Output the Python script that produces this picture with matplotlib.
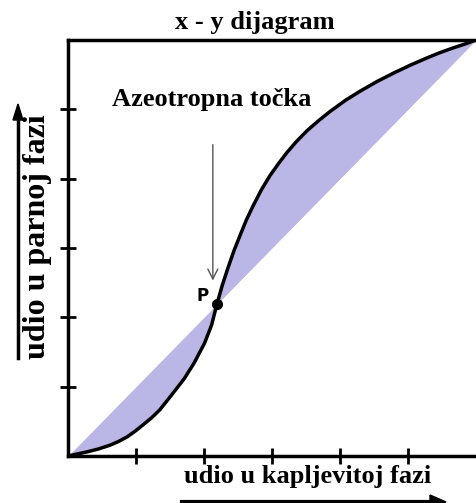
import matplotlib.pyplot as plt

plt.rcParams["font.family"] = ["Liberation Serif", "DejaVu Serif"]

# x-y ravnoteža (očitano sa slike)
x_kap = [0.0, 0.047, 0.075, 0.103, 0.124, 0.145, 0.165, 0.184, 0.205, 0.225, 0.255,
         0.285, 0.31, 0.335, 0.352, 0.365, 0.378, 0.392, 0.407, 0.422, 0.437, 0.453,
         0.474, 0.495, 0.516, 0.537, 0.56, 0.586, 0.614, 0.642, 0.68, 0.716, 0.757,
         0.797, 0.84, 0.88, 0.91, 0.944, 0.975, 1.0]
y_par = [0.0, 0.010, 0.017, 0.026, 0.035, 0.046, 0.06, 0.075, 0.092, 0.111, 0.148,
         0.186, 0.225, 0.272, 0.315, 0.365, 0.41, 0.452, 0.494, 0.531, 0.567, 0.600,
         0.640, 0.674, 0.703, 0.730, 0.756, 0.782, 0.806, 0.828, 0.855, 0.877, 0.900,
         0.920, 0.940, 0.957, 0.969, 0.981, 0.991, 1.0]
azeotrop = (0.365, 0.365)
ticks = [1/6, 2/6, 3/6, 4/6, 5/6]

fig = plt.figure(figsize=(4.77, 5.03), dpi=100)
ax = fig.add_axes([68/477, 47/503, 408/477, 416/503])

ax.fill_between(x_kap, x_kap, y_par, color="#bab6e6", linewidth=0)
ax.plot(x_kap, y_par, color="black", linewidth=2.5, solid_joinstyle="round",
        solid_capstyle="round")
ax.plot(*azeotrop, "o", color="black", markersize=7)

ax.set_xlim(0, 1)
ax.set_ylim(0, 1)
ax.set_xticks(ticks)
ax.set_yticks(ticks)
ax.set_xticklabels([])
ax.set_yticklabels([])
ax.tick_params(direction="inout", length=12, width=2, color="black")
ax.spines["right"].set_visible(False)
for s in ["left", "bottom", "top"]:
    ax.spines[s].set_linewidth(2.5)

fig.text(255/477, 1 - 22/503, "x - y dijagram", fontsize=19, fontweight="bold",
         ha="center", va="center")

ax.text(0.108, 0.856, "Azeotropna točka", fontsize=19, fontweight="bold",
        transform=ax.transAxes, va="center")
ax.annotate("", xy=(0.355, 0.415), xytext=(0.355, 0.755),
            arrowprops=dict(arrowstyle="->", color="#555555", lw=1, mutation_scale=18))
ax.text(0.33, 0.385, "P", fontsize=12, fontweight="bold", family="DejaVu Sans",
        ha="center", va="center")

fig.text(38/477, 1 - 237/503, "udio u parnoj fazi", rotation=90, fontsize=23,
         fontweight="bold", ha="center", va="center")
fig.text(308/477, 1 - 476/503, "udio u kapljevitoj fazi", fontsize=19,
         fontweight="bold", ha="center", va="center")

fig.add_artist(plt.Line2D([18/477, 18/477], [1 - 358/503, 1 - 116/503], color="black", lw=2.5))
fig.patches.append(plt.Polygon([[13/477, 1 - 120/503], [23/477, 1 - 120/503], [18/477, 1 - 104/503]],
                               closed=True, color="black", transform=fig.transFigure))
fig.add_artist(plt.Line2D([182/477, 434/477], [1 - 502/503, 1 - 502/503], color="black", lw=3))
fig.patches.append(plt.Polygon([[430/477, 1 - 495/503], [430/477, 1 - 509/503], [446/477, 1 - 502/503]],
                               closed=True, color="black", transform=fig.transFigure))

fig.savefig("out.png", dpi=100)
